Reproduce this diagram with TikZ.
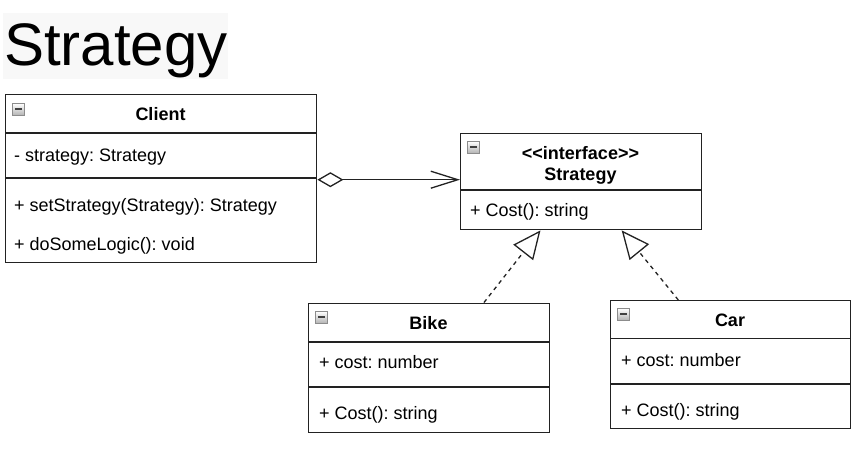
\documentclass[tikz,border=0pt]{standalone}
\usepackage{fontspec}
\setmainfont{Liberation Sans}
\usetikzlibrary{arrows.meta,calc}
\definecolor{edge}{HTML}{222222}
\definecolor{titlebg}{HTML}{F8F8F8}
\frenchspacing
\tikzset{
  cls/.style={draw=edge, line width=1.4pt, rectangle, inner sep=0pt, anchor=north west, fill=white},
  sep/.style={draw=edge, line width=1.4pt},
  member/.style={anchor=base west, inner sep=0pt, font=\fontsize{18}{20}\selectfont},
  cname/.style={anchor=base, inner sep=0pt, font=\fontsize{18}{20}\selectfont\bfseries},
  minusbox/.style={anchor=north west, draw=black!45, line width=0.8pt, inner sep=0pt,
    minimum width=12pt, minimum height=12pt, top color=white, bottom color=black!30,
    path picture={\draw[black!75, line width=2pt] ([xshift=2.5pt]path picture bounding box.west) -- ([xshift=-2.5pt]path picture bounding box.east);}},
  agg/.style={line width=1.3pt, draw=edge, {Diamond[open,length=26pt,width=15pt]}-{Straight Barb[length=27pt,width=17pt]}},
  realize/.style={line width=1.3pt, draw=edge, dash pattern=on 4pt off 4pt, -{Triangle[open,length=28pt,width=25pt]}}
}
\begin{document}
\begin{tikzpicture}[x=1pt,y=-1pt]
\useasboundingbox (0,0) rectangle (865,448);
% title
\fill[titlebg] (3,13) rectangle (228,79);
\node[anchor=base west, inner sep=0pt, font=\fontsize{60}{62}\selectfont] (title) at (4,65) {Strategy};

% Client
\node[cls, minimum width=311pt, minimum height=168pt] (client) at (5,94) {};
\draw[sep] (client.west |- 0,133) -- (client.east |- 0,133);
\draw[sep] (client.west |- 0,178) -- (client.east |- 0,178);
\node[minusbox] (cmin) at (12,103) {};
\node[cname] (ctitle) at (160.5,120.7) {Client};
\node[member] (cattr) at (14,161) {- strategy: Strategy};
\node[member] (cop1) at (14,211.5) {+ setStrategy(Strategy): Strategy};
\node[member] (cop2) at (14,250) {+ doSomeLogic(): void};

% Strategy interface
\node[cls, minimum width=241pt, minimum height=96pt] (strategy) at (460,133) {};
\draw[sep] (strategy.west |- 0,190) -- (strategy.east |- 0,190);
\node[minusbox] (smin) at (467,141) {};
\node[cname] (sster) at (580.5,159) {{<}{<}interface{>}{>}};
\node[cname] (stitle) at (580.5,180.7) {Strategy};
\node[member] (sop) at (470,216.7) {+ Cost(): string};

% Bike
\node[cls, minimum width=241pt, minimum height=129pt] (bike) at (308,302.5) {};
\draw[sep] (bike.west |- 0,342) -- (bike.east |- 0,342);
\draw[sep] (bike.west |- 0,387) -- (bike.east |- 0,387);
\node[minusbox] (bmin) at (315,311) {};
\node[cname] (btitle) at (428.5,329.3) {Bike};
\node[member] (battr) at (319,368.7) {+ cost: number};
\node[member] (bop) at (319,419.3) {+ Cost(): string};

% Car
\node[cls, minimum width=240pt, minimum height=128pt] (car) at (610,300) {};
\draw[sep] (car.west |- 0,338.5) -- (car.east |- 0,338.5);
\draw[sep] (car.west |- 0,384) -- (car.east |- 0,384);
\node[minusbox] (camin) at (617,308) {};
\node[cname] (catitle) at (730,326.7) {Car};
\node[member] (caattr) at (621,366) {+ cost: number};
\node[member] (caop) at (621,416.7) {+ Cost(): string};

% connectors
\draw[agg] ([yshift=-1pt]client.east) -- ([yshift=-1pt]client.east -| strategy.west);
\draw[realize] ($(bike.north west)!0.726!(bike.north east)$) -- ($(strategy.south west)!0.332!(strategy.south east)$);
\draw[realize] ($(car.north west)!0.283!(car.north east)$) -- ($(strategy.south west)!0.667!(strategy.south east)$);
\end{tikzpicture}
\end{document}
